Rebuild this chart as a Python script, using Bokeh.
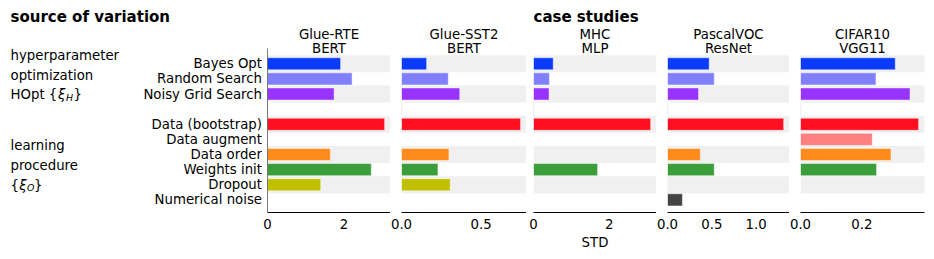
from bokeh.plotting import figure
from bokeh.layouts import row
from bokeh.models import Range1d, FixedTicker, Label, ColumnDataSource
from bokeh.embed import file_html
from bokeh.resources import INLINE

# ---------------- data ----------------
categories = ["Bayes Opt", "Random Search", "Noisy Grid Search", "",
              "Data (bootstrap)", "Data augment", "Data order",
              "Weights init", "Dropout", "Numerical noise"]
bar_colors = ["#0a3bff", "#8080ff", "#9933ff", "#ffffff",
              "#ff1020", "#ff8080", "#ff8a1e", "#3b9e3b", "#c0c000", "#444444"]

panel_names = ["Glue-RTE", "Glue-SST2", "MHC", "PascalVOC", "CIFAR10"]
panel_models = ["BERT", "BERT", "MLP", "ResNet", "VGG11"]

std_glue_rte = [1.91, 2.21, 1.74, None, 3.06, None, 1.64, 2.71, 1.39, None]
std_glue_sst2 = [0.158, 0.294, 0.366, None, 0.748, None, 0.298, 0.229, 0.306, None]
std_mhc = [0.52, 0.42, 0.41, None, 3.09, None, None, 1.69, None, None]
std_pascalvoc = [0.47, 0.527, 0.35, None, 1.31, None, 0.37, 0.527, None, 0.168]
std_cifar10 = [0.309, 0.246, 0.357, None, 0.385, 0.234, 0.295, 0.248, None, None]
panel_values = [std_glue_rte, std_glue_sst2, std_mhc, std_pascalvoc, std_cifar10]

tick_values = [[0, 2], [0, 0.5], [0, 2], [0, 0.5, 1.0], [0, 0.2]]
tick_labels = [["0", "2"], ["0.0", "0.5"], ["0", "2"], ["0.0", "0.5", "1.0"], ["0.0", "0.2"]]

group_hopt = ["hyperparameter", "optimization"]
group_learn = ["learning", "procedure"]

# ---------------- layout ----------------
FONT = "DejaVu Sans"
FS = "13.3px"
TOTAL_H = 256
FRAME_BOT = 212              # page px of x-axis line
BB = TOTAL_H - FRAME_BOT
ROW_PITCH = 15.115           # px per category row
ROW0_PX = 63.3               # page px of first row centre
SPINE_TOP = 48               # page px where the left spine starts
DY = -3                      # baseline correction for text placement


def ydata(py):
    """page pixel -> row coordinate"""
    return (py - ROW0_PX) / ROW_PITCH


Y_TOP = ydata(0)
Y_BOT = ydata(FRAME_BOT)

W_LEFT = 262
frame_w = [123, 125, 123, 122, 124]
border_l = [5, 11, 7, 11, 11]
border_r = [0, 0, 0, 0, 2]


def make_label(text, x, y, size=FS, style="normal", align="left", baseline="alphabetic"):
    return Label(x=x, y=y, text=text, text_font=FONT, text_font_size=size,
                 text_font_style=style, text_align=align, text_baseline=baseline,
                 text_color="black")


def T(py):
    return ydata(py + DY)


# ---------- left figure: headings, group texts, row labels ----------
f0 = figure(width=W_LEFT, height=TOTAL_H, x_range=Range1d(0, W_LEFT),
            y_range=Range1d(Y_BOT, Y_TOP),
            x_axis_location=None, y_axis_location=None, toolbar_location=None,
            output_backend="svg", min_border_left=0, min_border_right=0,
            min_border_top=0, min_border_bottom=BB, outline_line_color=None, title=None)
f0.xgrid.visible = False
f0.ygrid.visible = False
f0.add_layout(make_label("source of variation", 10, T(19.8), size="15px", style="bold"))
for i, t in enumerate(group_hopt):
    f0.add_layout(make_label(t, 10, T(58.2 + 19.6 * i)))
f0.add_layout(make_label("HOpt {", 10, T(97.4)))
f0.add_layout(make_label("ξ", 57.5, T(97.4), style="italic"))
f0.add_layout(make_label("H", 65.5, T(100.2), size="9.4px", style="italic"))
f0.add_layout(make_label("}", 73, T(97.4)))
for i, t in enumerate(group_learn):
    f0.add_layout(make_label(t, 10, T(148.3 + 19.7 * i)))
f0.add_layout(make_label("{", 10, T(187.6)))
f0.add_layout(make_label("ξ", 18.8, T(187.6), style="italic"))
f0.add_layout(make_label("O", 26.5, T(190.4), size="9.4px", style="italic"))
f0.add_layout(make_label("}", 33.5, T(187.6)))
for i, c in enumerate(categories):
    if c:
        f0.add_layout(make_label(c, W_LEFT - 0.5, i, align="right", baseline="middle"))

# ---------- panels ----------
panels = []
for k in range(5):
    vals = panel_values[k]
    xmax = 1.05 * max(v for v in vals if v is not None)
    p = figure(width=border_l[k] + frame_w[k] + border_r[k], height=TOTAL_H,
               x_range=Range1d(0, xmax), y_range=Range1d(Y_BOT, Y_TOP),
               y_axis_location=None,
               toolbar_location=None, output_backend="svg", title=None,
               min_border_left=border_l[k], min_border_right=border_r[k],
               min_border_top=0, min_border_bottom=BB, outline_line_color=None)
    p.xgrid.visible = False
    p.ygrid.visible = False

    # alternating background bands
    band_rows = [i for i in range(len(categories)) if i % 2 == 0]
    p.hbar(y=band_rows, left=0, right=xmax, height=1.12, fill_color="#f0f0f0", line_color=None)
    # empty separator row stub
    p.hbar(y=[3], left=0, right=0, height=0.8, fill_alpha=0, line_color="#e2e2e2", line_width=1.5)

    ys, rs, cs = [], [], []
    for i, v in enumerate(vals):
        if v is not None:
            ys.append(i)
            rs.append(v)
            cs.append(bar_colors[i])
    src = ColumnDataSource(dict(y=ys, right=rs, color=cs))
    p.hbar(y="y", left=0, right="right", height=0.8, source=src,
           fill_color="color", line_color="white", line_alpha=0.45, line_width=1)

    if k == 0:
        # left spine
        p.segment(x0=[0], y0=[ydata(SPINE_TOP)], x1=[0], y1=[Y_BOT], line_color="black", line_width=1)

    xa = p.xaxis[0]
    xa.ticker = FixedTicker(ticks=tick_values[k])
    xa.major_label_overrides = {v: l for v, l in zip(tick_values[k], tick_labels[k])}
    xa.major_tick_out = 0
    xa.major_tick_in = 0
    xa.minor_tick_out = 0
    xa.minor_tick_in = 0
    xa.major_label_standoff = 6
    xa.axis_line_color = "black"
    xa.major_label_text_font = FONT
    xa.major_label_text_font_size = FS
    xa.major_label_text_color = "black"
    if k == 2:
        xa.axis_label = "STD"
        xa.axis_label_standoff = 3
        xa.axis_label_text_font = FONT
        xa.axis_label_text_font_size = FS
        xa.axis_label_text_font_style = "normal"
        xa.axis_label_text_color = "black"

    p.add_layout(make_label(panel_names[k], xmax / 2, T(36.6), align="center"))
    p.add_layout(make_label(panel_models[k], xmax / 2, T(51.4), align="center"))
    if k == 2:
        p.add_layout(make_label("case studies", 0, T(19.8), size="15px", style="bold"))
    panels.append(p)

layout = row(f0, *panels)
open("out.html", "w").write(file_html(layout, INLINE))
